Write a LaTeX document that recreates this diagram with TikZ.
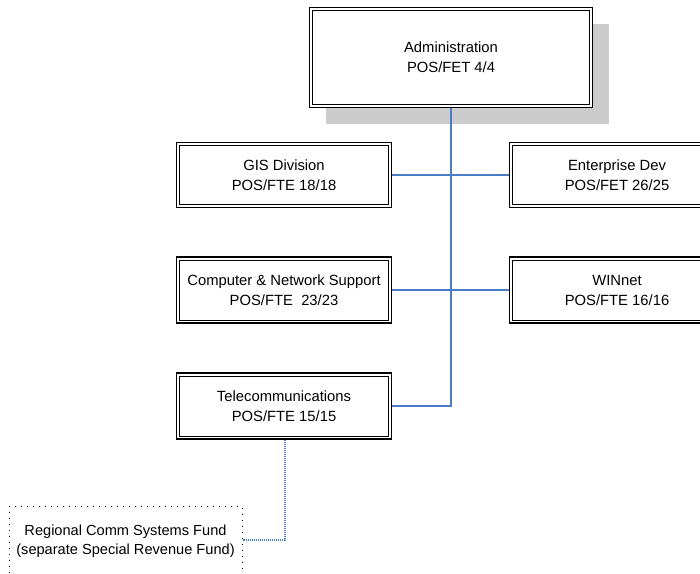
\documentclass[tikz,border=0pt]{standalone}
\usepackage{fontspec}
\setmainfont{Liberation Sans}
\usetikzlibrary{shadows}
\definecolor{linkblue}{RGB}{74,126,196}
\definecolor{shadowgray}{RGB}{204,204,204}
\tikzset{
  unit/.style={draw=black, line width=1.4pt, fill=white, inner sep=0pt,
    align=center, font=\fontsize{14.8}{20}\selectfont},
  link/.style={draw=linkblue, line width=1.3pt},
  fundlink/.style={draw=linkblue, line width=1.1pt, dash pattern=on 1pt off 1pt},
  fundbox/.style={draw=black, line width=1pt, dash pattern=on 1pt off 5pt,
    inner sep=0pt, align=center, font=\fontsize{14.6}{19}\selectfont},
}
\begin{document}
\begin{tikzpicture}[x=1pt, y=-1pt]
  \useasboundingbox (0,0) rectangle (700,573);
  \clip (0,0) rectangle (700,573);

  % units
  \node[unit, minimum width=283pt, minimum height=100pt,
        drop shadow={shadow xshift=16pt, shadow yshift=-16pt, fill=shadowgray, opacity=1}]
        (adm) at (451,57.5) {Administration\\POS/FET 4/4};
  \node[unit, minimum width=215pt, minimum height=65pt] (gis) at (284,175) {GIS Division\\POS/FTE 18/18};
  \node[unit, minimum width=215pt, minimum height=65pt] (ent) at (617,175) {Enterprise Dev\\POS/FET 26/25};
  \node[unit, minimum width=215pt, minimum height=66pt] (cns) at (284,290) {Computer \& Network Support\\POS/FTE~ 23/23};
  \node[unit, minimum width=215pt, minimum height=66pt] (win) at (617,290) {WINnet\\POS/FTE 16/16};
  \node[unit, minimum width=215pt, minimum height=66pt] (tel) at (284,406) {Telecommunications\\POS/FTE 15/15};

  % inner rules of the double borders
  \foreach \n in {adm,gis,ent,cns,win,tel}
    \draw[line width=0.8pt] ([shift={(3.6,3.6)}]\n.north west) rectangle ([shift={(-3.6,-3.6)}]\n.south east);

  % separate fund (its lower edge runs past the page)
  \node[fundbox, minimum width=233pt, minimum height=69pt] (fund) at (125.5,541)
        {Regional Comm Systems Fund\\(separate Special Revenue Fund)};

  % connectors
  \coordinate (jn) at (451,406);
  \coordinate (bend) at (285,540);
  \draw[link] (adm.south) -- (jn) -- (tel.east);
  \draw[link] (gis.east) -- (ent.west);
  \draw[link] (cns.east) -- (win.west);
  \draw[fundlink] (tel.south -| bend) -- (bend) -- (bend -| fund.east);
\end{tikzpicture}
\end{document}
